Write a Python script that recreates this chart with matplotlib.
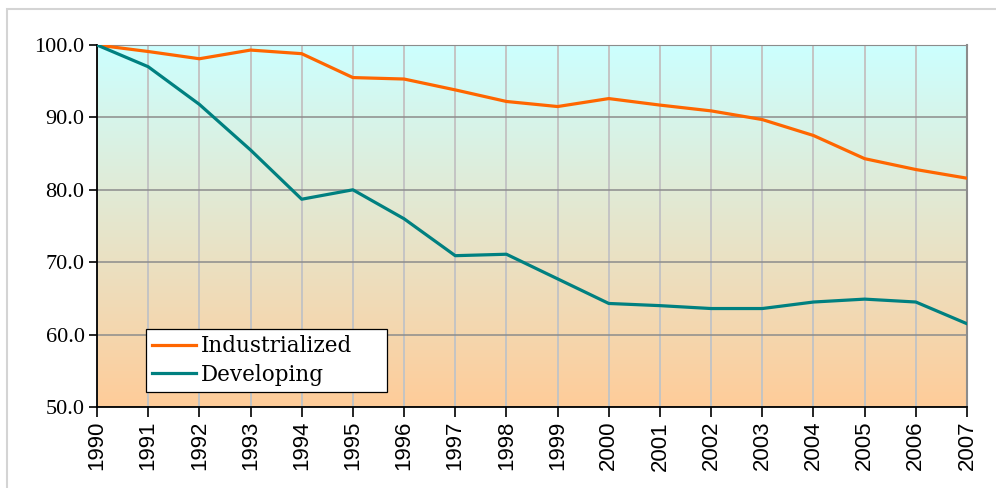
import numpy as np
import matplotlib
matplotlib.use("Agg")
import matplotlib.pyplot as plt
from matplotlib.colors import LinearSegmentedColormap
from matplotlib.patches import Rectangle

years = list(range(1990, 2008))
industrialized = [100.0, 99.1, 98.1, 99.3, 98.8, 95.5, 95.3, 93.8, 92.2, 91.5,
                  92.6, 91.7, 90.9, 89.7, 87.5, 84.3, 82.8, 81.6]
developing = [100.0, 97.0, 91.8, 85.5, 78.7, 80.0, 76.0, 70.9, 71.1, 67.7,
              64.3, 64.0, 63.6, 63.6, 64.5, 64.9, 64.5, 61.5]
yticks = [50, 60, 70, 80, 90, 100]

fig = plt.figure(figsize=(9.96, 4.88), dpi=100)
ax = fig.add_axes([97/996, 1-407/488, (967-97)/996, (407-45)/488])

# outer frame of the chart area
fig.patches.append(Rectangle((7/996, -0.2), 2, 1.2 - 9/488, transform=fig.transFigure,
                             fill=False, edgecolor="#d4d4d4", linewidth=1.5))

# background gradient, cyan on top to peach at the bottom
cmap = LinearSegmentedColormap.from_list("bg", ["#ffcc99", "#ccffff"])
grad = np.linspace(0, 1, 256).reshape(-1, 1)
ax.imshow(grad, aspect="auto", cmap=cmap, origin="lower",
          extent=[years[0], years[-1], 50, 100], zorder=0)

ax.set_xlim(years[0], years[-1])
ax.set_ylim(50, 100)

for x in years:
    ax.axvline(x, color="#c4c4c4", lw=1.4, zorder=1)
for y in yticks:
    ax.axhline(y, color="#8c8c8c", lw=1.1, zorder=1)

ax.plot(years, industrialized, color="#ff6600", lw=2.3, label="Industrialized", zorder=3)
ax.plot(years, developing, color="#008080", lw=2.3, label="Developing", zorder=3)

ax.set_xticks(years)
ax.set_xticklabels([str(y) for y in years], rotation=90, family="Liberation Sans", fontsize=16)
ax.set_yticks(yticks)
ax.set_yticklabels(["%.1f" % v for v in yticks], family="Liberation Serif", fontsize=16)
ax.tick_params(axis="x", length=7, width=1.2, pad=3)
ax.tick_params(axis="y", length=6, width=1.2, pad=3)

ax.spines["left"].set_color("black")
ax.spines["bottom"].set_color("black")
ax.spines["left"].set_linewidth(1.3)
ax.spines["bottom"].set_linewidth(1.3)
ax.spines["top"].set_color("#8c8c8c")
ax.spines["right"].set_color("#8c8c8c")
ax.spines["right"].set_linewidth(1.5)

# legend box: x 146..387 px, y 326..392 px
leg = ax.legend(loc="lower left", bbox_to_anchor=(49/870, 15/362, 241/870, 66/362),
                mode="expand", frameon=True, fancybox=False,
                edgecolor="black", framealpha=1, borderaxespad=0,
                prop={"family": "DejaVu Serif", "size": 15.5},
                handlelength=2.0, handletextpad=0.25, labelspacing=0.3,
                borderpad=0.3)
leg.get_frame().set_linewidth(0.9)
leg.set_zorder(5)

fig.savefig("out.png", dpi=100)
